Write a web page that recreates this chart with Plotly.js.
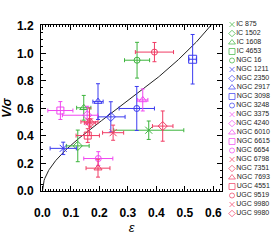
<!DOCTYPE html>
<html><head><meta charset="utf-8">
<script src="https://cdn.plot.ly/plotly-3.0.1.min.js"></script>
<style>html,body{margin:0;padding:0;background:#fff}#chart{width:274px;height:243px}</style>
</head><body><div id="chart"></div>
<script>
// ---- data ----
const galaxies = ["IC 875","IC 1502","IC 1608","IC 4653","NGC 16",
  "NGC 1211","NGC 2350","NGC 2917","NGC 3098","NGC 3248",
  "NGC 3375","NGC 4240","NGC 6010","NGC 6615","NGC 6654",
  "NGC 6798","NGC 7351","NGC 7693","UGC 4551","UGC 9519","UGC 9980","UGC 9980"];
const seriesColors = ["#3cb43c","#3cb43c","#3cb43c","#3cb43c","#3cb43c",
  "#3c3cf0","#3c3cf0","#3c3cf0","#3c3cf0","#3c3cf0",
  "#f046f0","#f046f0","#f046f0","#f046f0","#f046f0",
  "#f03c64","#f03c64","#f03c64","#f03c64","#f03c64","#f03c64","#f03c64"];
const seriesShapes = ["x","diamond","triangle","square","circle",
  "x","diamond","triangle","square","circle",
  "x","diamond","triangle","square","circle",
  "x","diamond","triangle","square","circle","x","diamond"];
const ellipticity = [0.373,0.124,0.145,null,0.332,
  0.073,0.240,0.195,0.527,0.331,
  null,0.157,0.352,0.063,0.196,
  0.165,0.422,0.195,0.159,0.393,0.248,0.167];
const vOverSigma = [0.442,0.328,0.605,null,0.951,
  0.310,0.539,0.650,0.958,0.600,
  null,0.551,0.662,0.585,0.236,
  0.503,0.472,0.166,0.403,1.010,0.424,0.495];
const errEpsPlus = [0.123,0.040,0.025,0,0.044,
  0.046,0.050,0.018,0.013,0.062,
  0,0.037,0.018,0.044,0.051,
  0.030,0.036,0.042,0.041,0.067,0.037,0.020];
const errEpsMinus = [0.123,0.040,0.025,0,0.044,
  0.046,0.045,0.018,0.013,0.062,
  0,0.087,0.018,0.044,0.051,
  0.030,0.036,0.042,0.041,0.067,0.037,0.020];
const errV = [0.067,0.115,0.090,0,0.130,
  0.045,0.110,0.130,0.180,0.160,
  0,0.065,0.080,0.065,0.050,
  0.100,0.110,0.065,0.050,0.070,0.055,0.030];
const xTickLabels = ["0.0","0.1","0.2","0.3","0.4","0.5","0.6"];
const yTickLabels = ["0.0","0.2","0.4","0.6","0.8","1.0","1.2"];

// isotropic oblate rotator curve V/sigma = sqrt(eps/(1-eps))
const curveEps = [];
for (let e = 0; e <= 0.62; e += 0.002) curveEps.push(e);
const curveV = curveEps.map(e => Math.sqrt(e / (1 - e)));

const symbolMap = {x:"x-thin-open", diamond:"diamond-open", triangle:"triangle-up-open", square:"square-open", circle:"circle-open"};
const plotSize = {x:7, diamond:7, triangle:7, square:7, circle:6};
const legSize = {x:5, diamond:5, triangle:6, square:6, circle:5};

const traces = [{
  x: curveEps, y: curveV, mode: "lines", type: "scatter",
  line: {color: "#222", width: 1}, hoverinfo: "skip", showlegend: false
}];

galaxies.forEach((g, i) => {
  if (ellipticity[i] === null) return;
  const c = seriesColors[i];
  traces.push({
    type: "scatter", mode: "markers", name: g, showlegend: false,
    x: [ellipticity[i]], y: [vOverSigma[i]],
    marker: {symbol: symbolMap[seriesShapes[i]], size: (g === "NGC 3098" ? 8 : plotSize[seriesShapes[i]]), color: c, line: {color: c, width: 1}},
    error_x: {type: "data", symmetric: false, array: [errEpsPlus[i]], arrayminus: [errEpsMinus[i]], color: c, thickness: 1, width: 2},
    error_y: {type: "data", array: [errV[i]], color: c, thickness: 1, width: 2}
  });
});

// manual legend on an auxiliary pixel-scaled axis in the right margin
const legX = 232, legTop = 24.5, legStep = 9;
traces.push({
  type: "scatter", mode: "markers+text", xaxis: "x2", yaxis: "y2", showlegend: false, hoverinfo: "skip",
  x: galaxies.map(() => legX),
  y: galaxies.map((g, i) => legTop + legStep * i),
  text: galaxies, textposition: "middle right",
  textfont: {family: "Liberation Sans, Arial, sans-serif", size: 7, color: "#222"},
  marker: {symbol: seriesShapes.map(s => symbolMap[s]), size: seriesShapes.map(s => legSize[s]),
           color: seriesColors, line: {color: seriesColors, width: 1}}
});

const tickFont = {family: "Liberation Sans, Arial, sans-serif", size: 12, color: "#000", weight: "bold"};
const layout = {
  width: 274, height: 243,
  margin: {l: 0, r: 0, t: 0, b: 0, pad: 0},
  paper_bgcolor: "#fff", plot_bgcolor: "rgba(0,0,0,0)",
  showlegend: false,
  xaxis: {
    domain: [41/274, 222/274], anchor: "y", range: [-0.005, 0.63],
    tickvals: [0,0.1,0.2,0.3,0.4,0.5,0.6], ticktext: xTickLabels,
    ticks: "inside", ticklen: 5, tickcolor: "#000", tickwidth: 1,
    minor: {dtick: 0.01, ticks: "inside", ticklen: 2, tickcolor: "#000"},
    showline: true, linecolor: "#000", linewidth: 1, mirror: "allticks",
    showgrid: false, zeroline: false, tickfont: tickFont, ticklabelstandoff: 11,
    title: {text: "ε", font: {family: "Liberation Sans, Arial, sans-serif", size: 13, style: "italic", color: "#000"}, standoff: 3},
    automargin: false
  },
  yaxis: {
    domain: [52/243, 218/243], anchor: "x", range: [0, 1.207],
    tickvals: [0,0.2,0.4,0.6,0.8,1.0,1.2], ticktext: yTickLabels,
    ticks: "inside", ticklen: 5, tickcolor: "#000", tickwidth: 1,
    minor: {dtick: 0.05, ticks: "inside", ticklen: 2, tickcolor: "#000"},
    showline: true, linecolor: "#000", linewidth: 1, mirror: "allticks",
    showgrid: false, zeroline: false, tickfont: tickFont, ticklabelstandoff: 4,
    title: {text: "V/σ", font: {family: "Liberation Sans, Arial, sans-serif", size: 12, style: "italic", weight: "bold", color: "#000"}, standoff: 8},
    automargin: false
  },
  xaxis2: {domain: [228/274, 1], range: [228, 274], anchor: "y2", visible: false, fixedrange: true},
  yaxis2: {domain: [0, 1], range: [243, 0], anchor: "x2", visible: false, fixedrange: true}
};

Plotly.newPlot("chart", traces, layout, {staticPlot: true, displayModeBar: false});
</script></body></html>
